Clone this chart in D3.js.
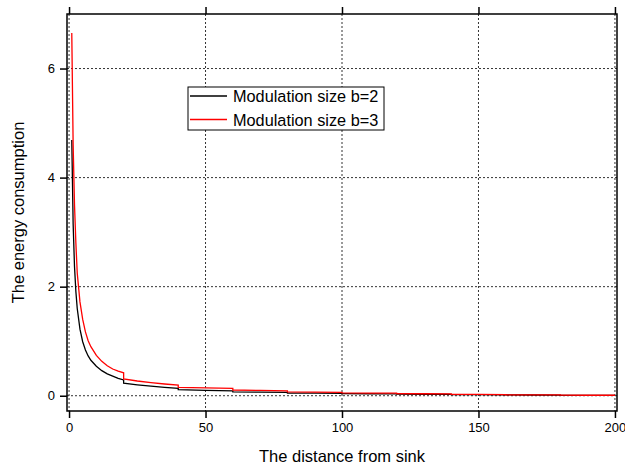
<!DOCTYPE html>
<html>
<head>
<meta charset="utf-8">
<script src="https://cdn.jsdelivr.net/npm/d3@7"></script>
<style>
  body { margin: 0; background: #fff; }
  text { font-family: "Liberation Sans", Arial, sans-serif; fill: #000; }
</style>
</head>
<body>
<div id="wrapper"></div>
<script>
// data (steps at every 20 units)
const distance = [1, 1.5, 2, 2.5, 3, 4, 5, 6, 7, 8, 10, 12, 14, 16, 18, 20, 20, 25, 30, 35, 40, 40, 50, 60, 60, 70, 80, 80, 90, 100, 100, 110, 120, 120, 130, 140, 140, 150, 160, 160, 170, 180, 180, 190, 200]
const energyB2 = [4.69, 3.15, 2.37, 1.91, 1.60, 1.22, 0.99, 0.84, 0.73, 0.65, 0.54, 0.46, 0.40, 0.36, 0.32, 0.29, 0.23, 0.20, 0.175, 0.155, 0.135, 0.11, 0.10, 0.09, 0.072, 0.066, 0.06, 0.05, 0.047, 0.044, 0.038, 0.036, 0.034, 0.029, 0.027, 0.025, 0.02, 0.019, 0.018, 0.014, 0.013, 0.012, 0.008, 0.007, 0.007]
const energyB3 = [6.65, 4.6, 3.5, 2.8, 2.25, 1.72, 1.40, 1.17, 1.01, 0.90, 0.74, 0.63, 0.55, 0.49, 0.45, 0.42, 0.31, 0.27, 0.24, 0.215, 0.195, 0.155, 0.145, 0.135, 0.105, 0.097, 0.09, 0.07, 0.066, 0.062, 0.052, 0.049, 0.046, 0.038, 0.036, 0.034, 0.026, 0.024, 0.022, 0.017, 0.016, 0.015, 0.01, 0.009, 0.009]
const xTicks = [0, 50, 100, 150, 200]
const yTicks = [0, 2, 4, 6]
const seriesNames = ["Modulation size b=2", "Modulation size b=3"]
const seriesColors = ["#000000", "#ff0000"]

const dims = { width: 625, height: 466, left: 67, right: 617, top: 14, bottom: 411 }

const svg = d3.select("#wrapper").append("svg")
    .attr("width", dims.width)
    .attr("height", dims.height)

const xScale = d3.scaleLinear().domain([-0.75, 200.75]).range([dims.left, dims.right])
const yScale = d3.scaleLinear().domain([-0.28, 7.0]).range([dims.bottom, dims.top])

// grid
svg.append("g").selectAll("line").data(xTicks).join("line")
    .attr("x1", d => xScale(d)).attr("x2", d => xScale(d))
    .attr("y1", dims.top).attr("y2", dims.bottom)
    .attr("stroke", "#333").attr("stroke-width", 1)
    .attr("stroke-dasharray", "2,2")
svg.append("g").selectAll("line").data(yTicks).join("line")
    .attr("x1", dims.left).attr("x2", dims.right)
    .attr("y1", d => yScale(d)).attr("y2", d => yScale(d))
    .attr("stroke", "#333").attr("stroke-width", 1)
    .attr("stroke-dasharray", "2,2")

// curves
svg.append("clipPath").attr("id", "clip")
    .append("rect").attr("x", dims.left).attr("y", dims.top)
    .attr("width", dims.right - dims.left).attr("height", dims.bottom - dims.top)

const line = d3.line()
    .x((d, i) => xScale(distance[i]))
    .y(d => yScale(d))

const plot = svg.append("g").attr("clip-path", "url(#clip)")
plot.append("path").attr("d", line(energyB2))
    .attr("fill", "none").attr("stroke", seriesColors[0]).attr("stroke-width", 1.3)
plot.append("path").attr("d", line(energyB3))
    .attr("fill", "none").attr("stroke", seriesColors[1]).attr("stroke-width", 1.3)

// axes
svg.append("g")
    .attr("transform", `translate(0,${dims.bottom})`)
    .call(d3.axisBottom(xScale).tickValues(xTicks).tickSize(7).tickPadding(5).tickFormat(d3.format("d")))
svg.append("g")
    .attr("transform", `translate(0,${dims.top})`)
    .call(d3.axisTop(xScale).tickValues(xTicks).tickSize(7).tickFormat(""))
svg.append("g")
    .attr("transform", `translate(${dims.left},0)`)
    .call(d3.axisLeft(yScale).tickValues(yTicks).tickSize(7).tickPadding(5).tickFormat(d3.format("d")))

svg.selectAll(".domain").remove()
svg.selectAll(".tick line").attr("stroke", "#000").attr("stroke-width", 1.5)
svg.selectAll(".tick text").style("font-size", "13px").attr("fill", "#000")
    .style("font-family", "'Liberation Sans', Arial, sans-serif")

// frame
svg.append("rect")
    .attr("x", dims.left).attr("y", dims.top)
    .attr("width", dims.right - dims.left).attr("height", dims.bottom - dims.top)
    .attr("fill", "none").attr("stroke", "#000").attr("stroke-width", 1.5)

// axis titles
svg.append("text")
    .attr("x", (dims.left + dims.right) / 2).attr("y", 462)
    .attr("text-anchor", "middle")
    .style("font-size", "16.5px")
    .text("The distance from sink")
svg.append("text")
    .attr("transform", `translate(24,${(dims.top + dims.bottom) / 2}) rotate(-90)`)
    .attr("text-anchor", "middle")
    .style("font-size", "16.5px")
    .text("The energy consumption")

// legend
const legend = svg.append("g").attr("transform", "translate(188,87)")
legend.append("rect")
    .attr("width", 196).attr("height", 43)
    .attr("fill", "#fff").attr("stroke", "#000").attr("stroke-width", 1)
seriesNames.forEach((name, i) => {
    const y = 9 + i * 23.5
    legend.append("line")
        .attr("x1", 2).attr("x2", 39)
        .attr("y1", y).attr("y2", y)
        .attr("stroke", seriesColors[i]).attr("stroke-width", 1.3)
    legend.append("text")
        .attr("x", 45).attr("y", y + 6)
        .style("font-size", "16.3px")
        .text(name)
})
</script>
</body>
</html>
